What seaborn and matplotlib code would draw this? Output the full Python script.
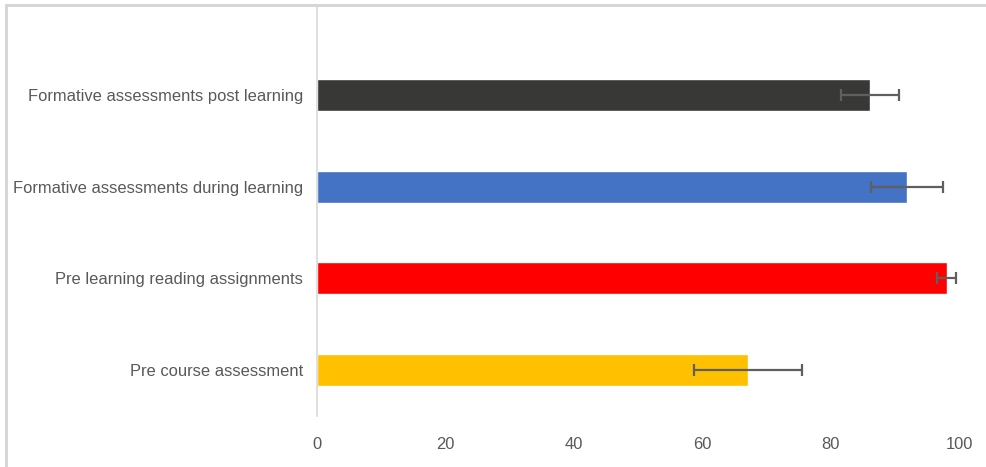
import matplotlib
matplotlib.use("Agg")
import matplotlib.pyplot as plt
import seaborn as sns
import pandas as pd
from matplotlib.lines import Line2D

categories = [
    "Formative assessments post learning",
    "Formative assessments during learning",
    "Pre learning reading assignments",
    "Pre course assessment",
]
values = [86.1, 91.9, 98.1, 67.1]
errors = [4.5, 5.6, 1.5, 8.4]
colors = ["#383836", "#4472C4", "#FF0000", "#FFC000"]
xticks = [0, 20, 40, 60, 80, 100]

sns.set_theme(style="white")
plt.rcParams["font.family"] = ["Liberation Sans", "DejaVu Sans"]

W, H = 987, 467
fig = plt.figure(figsize=(W / 100, H / 100), dpi=100)
ax = fig.add_axes([317 / W, 51 / H, (959 - 317) / W, (416 - 5) / H])

df = pd.DataFrame({"cat": categories, "val": values})
sns.barplot(data=df, x="val", y="cat", hue="cat", palette=colors, order=categories,
            hue_order=categories, legend=False, width=0.35, ax=ax, saturation=1, errorbar=None)
ax.errorbar(values, range(len(categories)), xerr=errors, fmt="none", ecolor="#5f5f5f",
            elinewidth=1.6, capsize=4, capthick=1.6, clip_on=False, zorder=5)

ax.set_xlim(0, 100)
ax.set_ylim(3.5, -0.98)
ax.set_xticks(xticks)
ax.set_xticklabels([str(t) for t in xticks])
ax.set_xlabel("")
ax.set_ylabel("")
ax.tick_params(axis="both", length=0, labelsize=11.9, colors="#595959")
ax.tick_params(axis="y", pad=10)
ax.tick_params(axis="x", pad=15)
for s in ["top", "right", "bottom"]:
    ax.spines[s].set_visible(False)
ax.spines["left"].set_color("#d9d9d9")
ax.spines["left"].set_linewidth(1.2)

# outer border (left and top edges)
fig.add_artist(Line2D([6 / W, 6 / W], [0, 1 - 5 / H], transform=fig.transFigure, color="#d4d4d4", lw=2))
fig.add_artist(Line2D([6 / W, 1], [1 - 5 / H, 1 - 5 / H], transform=fig.transFigure, color="#d4d4d4", lw=2))

fig.savefig("out.png", dpi=100)
